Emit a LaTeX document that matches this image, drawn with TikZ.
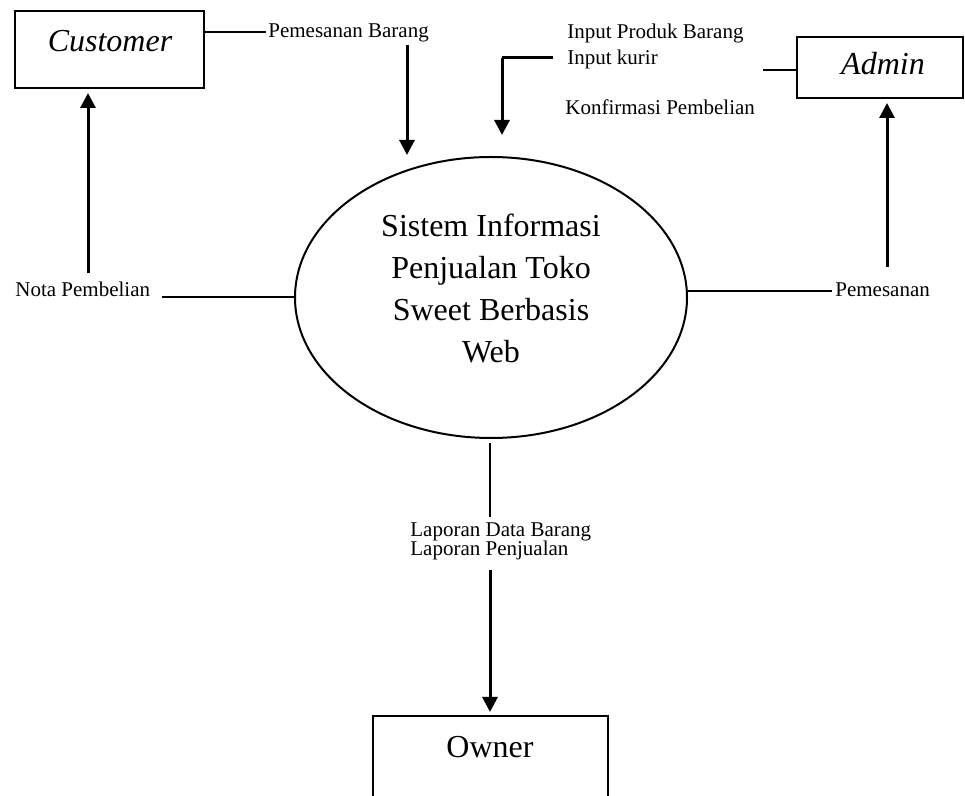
\documentclass[tikz,border=0pt]{standalone}
\usepackage{fontspec}
\setmainfont{Liberation Serif}
\usetikzlibrary{arrows.meta,shapes.geometric}
\begin{document}
\begin{tikzpicture}[x=0.5pt,y=-0.5pt,
  entity/.style={draw,line width=1.2pt,rectangle,inner sep=0pt},
  proc/.style={draw,line width=1pt,ellipse,inner sep=0pt,minimum width=196pt,minimum height=140.5pt},
  bigtxt/.style={inner sep=0pt,anchor=base,font=\fontsize{16}{19}\selectfont},
  smalltxt/.style={inner sep=0pt,anchor=base west,font=\fontsize{10.5}{12}\selectfont},
  thinline/.style={line width=1pt},
  flow/.style={line width=1.5pt,-{Triangle[width=7.5pt,length=7.5pt]}}]
\useasboundingbox (0,0) rectangle (965,796);
\clip (0,0) rectangle (965,796);
\fill[white] (0,0) rectangle (965,796);
% entities
\node[entity,minimum width=94.5pt,minimum height=38.5pt] (cust) at (109.5,49.5) {};
\node[bigtxt,font=\fontsize{16}{19}\selectfont\itshape] (custtxt) at (110,52) {Customer};
\node[entity,minimum width=83pt,minimum height=30.5pt] (admin) at (880,67.5) {};
\node[bigtxt,font=\fontsize{16}{19}\selectfont\itshape] (admintxt) at (883,75) {Admin};
\node[entity,minimum width=117.5pt,minimum height=82pt] (owner) at (490.5,798) {};
\node[bigtxt] (ownertxt) at (490,757) {Owner};
% process
\node[proc] (sys) at (491,297.5) {};
\node[bigtxt] (s1) at (491,237) {Sistem Informasi};
\node[bigtxt] (s2) at (491,279) {Penjualan Toko};
\node[bigtxt] (s3) at (491,321) {Sweet Berbasis};
\node[bigtxt] (s4) at (491,363) {Web};
% labels
\node[smalltxt] (pb) at (268,38) {Pemesanan Barang};
\node[smalltxt] (ipb) at (567,39) {Input Produk Barang};
\node[smalltxt] (ik) at (567,65) {Input kurir};
\node[smalltxt] (kp) at (565,115) {Konfirmasi Pembelian};
\node[smalltxt] (nota) at (15,297) {Nota Pembelian};
\node[smalltxt] (pem) at (835,297) {Pemesanan};
\node[smalltxt] (ldb) at (410,537) {Laporan Data Barang};
\node[smalltxt] (lp) at (410,556) {Laporan Penjualan};
% coordinates
\coordinate (pbA) at (407,45);
\coordinate (pbB) at (407,155);
\coordinate (ikA) at (553,58);
\coordinate (ikC) at (502,58);
\coordinate (ikB) at (502,135);
\coordinate (adA) at (763,70);
\coordinate (adB) at (887,267);
\coordinate (adT) at (887,103);
\coordinate (notaA) at (162,297);
\coordinate (cuB) at (88,273);
\coordinate (cuT) at (88,93);
\coordinate (pemA) at (832,291);
\coordinate (owA) at (490,443);
\coordinate (owB) at (490,517);
\coordinate (owC) at (490,570);
\coordinate (owT) at (490,712);
% connectors
\draw[thinline] (cust.east |- 0,32) -- ([xshift=-1pt]pb.west |- 0,32);
\draw[flow] (pbA) -- (pbB);
\draw[line width=1.5pt] (ikA) -- (ikC);
\draw[flow] (ikC) -- (ikB);
\draw[thinline] (adA) -- (admin.west |- adA);
\draw[flow] (adB) -- (adT);
\draw[thinline] (pemA) -- (sys.east |- pemA);
\draw[thinline] (notaA) -- (sys.west |- notaA);
\draw[flow] (cuB) -- (cuT);
\draw[thinline] (owA) -- (owB);
\draw[flow] (owC) -- (owT);
\end{tikzpicture}
\end{document}
